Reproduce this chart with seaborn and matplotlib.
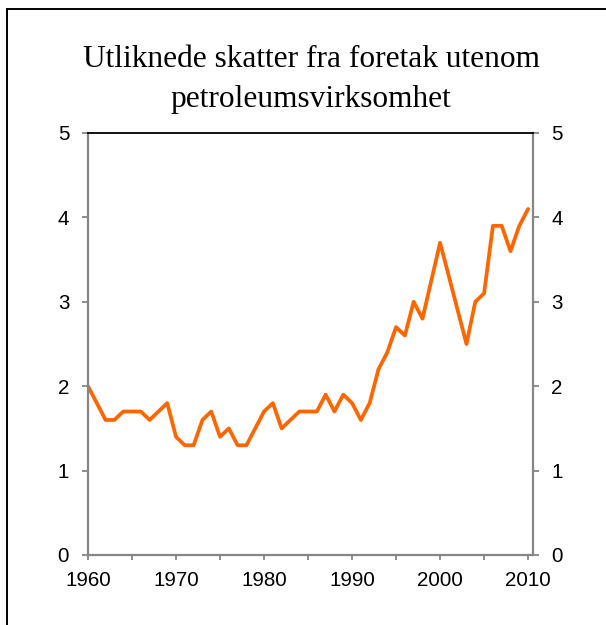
import matplotlib
matplotlib.use("Agg")
import matplotlib.pyplot as plt
from matplotlib.patches import Rectangle
import seaborn as sns
import pandas as pd

years = list(range(1960, 2011))
values = [2.0, 1.8, 1.6, 1.6, 1.7, 1.7, 1.7, 1.6, 1.7, 1.8,
          1.4, 1.3, 1.3, 1.6, 1.7, 1.4, 1.5, 1.3, 1.3, 1.5,
          1.7, 1.8, 1.5, 1.6, 1.7, 1.7, 1.7, 1.9, 1.7, 1.9,
          1.8, 1.6, 1.8, 2.2, 2.4, 2.7, 2.6, 3.0, 2.8, 3.25,
          3.7, 3.3, 2.9, 2.5, 3.0, 3.1, 3.9, 3.9, 3.6, 3.9,
          4.1]
title_lines = ["Utliknede skatter fra foretak utenom", "petroleumsvirksomhet"]
xtick_pos = list(range(1960, 2011, 5))
xtick_labels = [str(y) if y % 10 == 0 else "" for y in xtick_pos]
ytick_pos = [0, 1, 2, 3, 4, 5]

df = pd.DataFrame({"year": years, "value": values})

sns.set_style("white")
plt.rcParams["font.family"] = ["Liberation Sans", "DejaVu Sans"]

W, H = 606, 625
fig = plt.figure(figsize=(W / 100, H / 100), dpi=100)
ax = fig.add_axes([88 / W, (H - 555) / H, 444.5 / W, 422 / H])

sns.lineplot(data=df, x="year", y="value", ax=ax, color="#FF6600", linewidth=2.7)

ax.set_xlim(1960, 2010.5)
ax.set_ylim(0, 5)
ax.set_xticks(xtick_pos)
ax.set_xticklabels(xtick_labels)
ax.set_yticks(ytick_pos)
ax.set_xlabel("")
ax.set_ylabel("")

gray = "#868686"
for s in ["left", "right", "bottom"]:
    ax.spines[s].set_color(gray)
    ax.spines[s].set_linewidth(1.6)
    ax.spines[s].set_visible(True)
ax.spines["top"].set_color("black")
ax.spines["top"].set_linewidth(1.3)
ax.spines["top"].set_visible(True)

ax.tick_params(axis="y", which="both", left=True, right=True, labelleft=True,
               labelright=True, direction="out", length=4.5, width=1.3,
               color=gray, labelsize=14.8, pad=9, labelcolor="black")
ax.tick_params(axis="x", which="both", bottom=True, direction="out", length=3.6,
               width=1.3, color=gray, labelsize=14.8, pad=8, labelcolor="black")

for line, base in zip(title_lines, [67, 107]):
    fig.text(311 / W, 1 - base / H, line, ha="center", va="baseline",
             fontsize=22.6, family=["Liberation Serif", "DejaVu Serif"],
             color="black")

fig.add_artist(Rectangle((7 / W, -0.5), 2.0, 0.5 + 1 - 9 / H,
                         transform=fig.transFigure, fill=False,
                         edgecolor="black", linewidth=1.4))

fig.savefig("out.png", dpi=100)
